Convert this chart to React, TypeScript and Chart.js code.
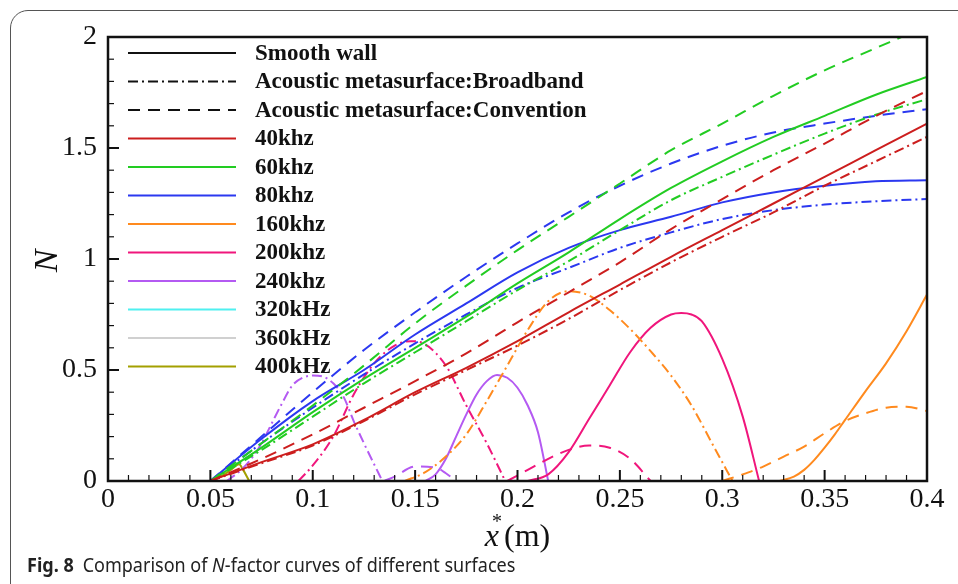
import React, { useEffect, useRef } from "react";
import { Chart, registerables } from "chart.js";

Chart.register(...registerables);

// ---------------- data ----------------
const xTickLabels = ["0", "0.05", "0.1", "0.15", "0.2", "0.25", "0.3", "0.35", "0.4"];
const yTickLabels = ["0", "0.5", "1", "1.5", "2"];

const legendLabels = [
  "Smooth wall",
  "Acoustic metasurface:Broadband",
  "Acoustic metasurface:Convention",
  "40khz",
  "60khz",
  "80khz",
  "160khz",
  "200khz",
  "240khz",
  "320kHz",
  "360kHz",
  "400kHz",
];

// shared x positions (m) for 40/60/80 kHz curves
const xMain = [0.05, 0.075, 0.1, 0.125, 0.15, 0.175, 0.2, 0.225, 0.25, 0.275, 0.3, 0.325, 0.35, 0.375, 0.4];

const n40Smooth = [0, 0.085, 0.165, 0.275, 0.4, 0.51, 0.63, 0.76, 0.885, 1.01, 1.13, 1.25, 1.37, 1.49, 1.61];
const n40Broad = [0, 0.08, 0.16, 0.27, 0.39, 0.5, 0.61, 0.73, 0.86, 0.985, 1.1, 1.21, 1.33, 1.44, 1.55];
const n40Conv = [0, 0.1, 0.21, 0.33, 0.45, 0.575, 0.715, 0.85, 0.985, 1.135, 1.27, 1.4, 1.52, 1.644, 1.757];

const n60Smooth = [0, 0.15, 0.31, 0.46, 0.6, 0.74, 0.89, 1.03, 1.18, 1.32, 1.44, 1.55, 1.645, 1.74, 1.82];
const n60Broad = [0, 0.14, 0.29, 0.44, 0.58, 0.72, 0.86, 0.99, 1.13, 1.265, 1.37, 1.47, 1.565, 1.65, 1.72];
const n60Conv = [0, 0.17, 0.34, 0.52, 0.71, 0.88, 1.04, 1.19, 1.34, 1.49, 1.61, 1.735, 1.85, 1.95, 2.05];

const n80Smooth = [0, 0.19, 0.36, 0.5, 0.66, 0.8, 0.94, 1.05, 1.13, 1.19, 1.255, 1.3, 1.33, 1.35, 1.355];
const n80Broad = [0, 0.17, 0.33, 0.48, 0.62, 0.75, 0.87, 0.96, 1.05, 1.12, 1.18, 1.22, 1.245, 1.26, 1.27];
const n80Conv = [0, 0.2, 0.4, 0.59, 0.76, 0.92, 1.07, 1.21, 1.33, 1.43, 1.51, 1.57, 1.61, 1.645, 1.675];

// 160 kHz
const x160Smooth = [0.328, 0.335, 0.34, 0.345, 0.35, 0.355, 0.36, 0.37, 0.38, 0.39, 0.4];
const n160Smooth = [0, 0.02, 0.05, 0.095, 0.15, 0.21, 0.275, 0.405, 0.53, 0.675, 0.84];
const x160Broad = [0.145, 0.155, 0.165, 0.175, 0.185, 0.195, 0.205, 0.215, 0.225, 0.235, 0.245, 0.255, 0.265, 0.275, 0.285, 0.295, 0.305];
const n160Broad = [0, 0.04, 0.11, 0.21, 0.36, 0.52, 0.68, 0.81, 0.855, 0.835, 0.77, 0.685, 0.585, 0.475, 0.34, 0.17, 0];
const x160Conv = [0.3, 0.31, 0.32, 0.33, 0.34, 0.35, 0.36, 0.37, 0.38, 0.39, 0.4];
const n160Conv = [0, 0.03, 0.065, 0.11, 0.155, 0.215, 0.27, 0.305, 0.33, 0.335, 0.315];

// 200 kHz
const x200Smooth = [0.205, 0.215, 0.225, 0.235, 0.245, 0.255, 0.265, 0.275, 0.28, 0.285, 0.29, 0.3, 0.31, 0.318];
const n200Smooth = [0, 0.03, 0.13, 0.28, 0.43, 0.58, 0.69, 0.75, 0.757, 0.75, 0.72, 0.55, 0.29, 0];
const x200Broad = [0.093, 0.1, 0.11, 0.12, 0.13, 0.14, 0.148, 0.155, 0.165, 0.175, 0.185, 0.194];
const n200Broad = [0, 0.07, 0.2, 0.39, 0.53, 0.61, 0.63, 0.615, 0.52, 0.34, 0.17, 0];
const x200Conv = [0.195, 0.205, 0.215, 0.225, 0.235, 0.245, 0.255, 0.265];
const n200Conv = [0, 0.05, 0.1, 0.14, 0.16, 0.15, 0.1, 0];

// 240 kHz
const x240Smooth = [0.155, 0.16, 0.165, 0.17, 0.175, 0.18, 0.185, 0.19, 0.195, 0.2, 0.205, 0.21, 0.215];
const n240Smooth = [0, 0.03, 0.1, 0.2, 0.3, 0.39, 0.45, 0.478, 0.465, 0.42, 0.34, 0.22, 0];
const x240Broad = [0.058, 0.065, 0.07, 0.075, 0.08, 0.085, 0.09, 0.095, 0.1, 0.105, 0.11, 0.115, 0.12, 0.125, 0.13, 0.134];
const n240Broad = [0, 0.05, 0.1, 0.17, 0.26, 0.35, 0.43, 0.465, 0.475, 0.47, 0.44, 0.38, 0.27, 0.17, 0.075, 0];
const x240Conv = [0.135, 0.14, 0.15, 0.16, 0.165, 0.17];
const n240Conv = [0, 0.02, 0.065, 0.06, 0.035, 0];

// 400 kHz
const x400Smooth = [0.05, 0.055, 0.06, 0.064, 0.066, 0.069];
const n400Smooth = [0, 0.02, 0.05, 0.075, 0.05, 0];

// ---------------- styles ----------------
const BLACK = "#111111";
const C40 = "#cc1e1e";
const C60 = "#22cc22";
const C80 = "#2b38f0";
const C160 = "#ff8a1e";
const C200 = "#f0167c";
const C240 = "#b45af2";
const C320 = "#4ff0f0";
const C360 = "#d0d0d0";
const C400 = "#a3a000";

const SOLID: number[] = [];
const BROAD = [10, 4, 2, 4];
const CONV = [12, 8];

const legendColors = [BLACK, BLACK, BLACK, C40, C60, C80, C160, C200, C240, C320, C360, C400];
const legendDashes = [SOLID, BROAD, CONV, SOLID, SOLID, SOLID, SOLID, SOLID, SOLID, SOLID, SOLID, SOLID];

const series = [
  { label: "40khz smooth", xs: xMain, ys: n40Smooth, color: C40, dash: SOLID },
  { label: "40khz broadband", xs: xMain, ys: n40Broad, color: C40, dash: BROAD },
  { label: "40khz convention", xs: xMain, ys: n40Conv, color: C40, dash: CONV },
  { label: "60khz smooth", xs: xMain, ys: n60Smooth, color: C60, dash: SOLID },
  { label: "60khz broadband", xs: xMain, ys: n60Broad, color: C60, dash: BROAD },
  { label: "60khz convention", xs: xMain, ys: n60Conv, color: C60, dash: CONV },
  { label: "80khz smooth", xs: xMain, ys: n80Smooth, color: C80, dash: SOLID },
  { label: "80khz broadband", xs: xMain, ys: n80Broad, color: C80, dash: BROAD },
  { label: "80khz convention", xs: xMain, ys: n80Conv, color: C80, dash: CONV },
  { label: "160khz smooth", xs: x160Smooth, ys: n160Smooth, color: C160, dash: SOLID },
  { label: "160khz broadband", xs: x160Broad, ys: n160Broad, color: C160, dash: BROAD },
  { label: "160khz convention", xs: x160Conv, ys: n160Conv, color: C160, dash: CONV },
  { label: "200khz smooth", xs: x200Smooth, ys: n200Smooth, color: C200, dash: SOLID },
  { label: "200khz broadband", xs: x200Broad, ys: n200Broad, color: C200, dash: BROAD },
  { label: "200khz convention", xs: x200Conv, ys: n200Conv, color: C200, dash: CONV },
  { label: "240khz smooth", xs: x240Smooth, ys: n240Smooth, color: C240, dash: SOLID },
  { label: "240khz broadband", xs: x240Broad, ys: n240Broad, color: C240, dash: BROAD },
  { label: "240khz convention", xs: x240Conv, ys: n240Conv, color: C240, dash: CONV },
  { label: "400kHz smooth", xs: x400Smooth, ys: n400Smooth, color: C400, dash: SOLID },
];

const SERIF = "'Liberation Serif', 'Times New Roman', serif";

const framePlugin = {
  id: "frameTicks",
  afterDatasetsDraw(chart: any) {
    const { ctx, chartArea: a, scales } = chart;
    ctx.save();
    ctx.strokeStyle = BLACK;
    ctx.setLineDash([]);
    const drawTicks = (scale: any, horizontal: boolean) => {
      const vals = scale.ticks.map((t: any) => t.value);
      for (let i = 0; i < vals.length; i++) {
        const major = scale.getPixelForValue(vals[i]);
        ctx.lineWidth = 2;
        ctx.beginPath();
        if (horizontal) {
          ctx.moveTo(major, a.bottom);
          ctx.lineTo(major, a.bottom - 11);
        } else {
          ctx.moveTo(a.left, major);
          ctx.lineTo(a.left + 11, major);
        }
        ctx.stroke();
        if (i < vals.length - 1) {
          ctx.lineWidth = 1.2;
          for (let k = 1; k < 5; k++) {
            const v = vals[i] + ((vals[i + 1] - vals[i]) * k) / 5;
            const p = scale.getPixelForValue(v);
            ctx.beginPath();
            if (horizontal) {
              ctx.moveTo(p, a.bottom);
              ctx.lineTo(p, a.bottom - 6);
            } else {
              ctx.moveTo(a.left, p);
              ctx.lineTo(a.left + 6, p);
            }
            ctx.stroke();
          }
        }
      }
    };
    drawTicks(scales.x, true);
    drawTicks(scales.y, false);
    ctx.lineWidth = 2.5;
    ctx.strokeRect(a.left, a.top, a.right - a.left, a.bottom - a.top);
    ctx.restore();
  },
};

const legendPlugin = {
  id: "customLegend",
  afterDraw(chart: any) {
    const { ctx, chartArea: a } = chart;
    ctx.save();
    ctx.font = `bold 23px ${SERIF}`;
    ctx.textBaseline = "middle";
    ctx.textAlign = "left";
    legendLabels.forEach((label, i) => {
      const y = a.top + 16 + i * 28.5;
      ctx.strokeStyle = legendColors[i];
      ctx.lineWidth = 2;
      ctx.setLineDash(legendDashes[i]);
      ctx.beginPath();
      ctx.moveTo(a.left + 20, y);
      ctx.lineTo(a.left + 128, y);
      ctx.stroke();
      ctx.fillStyle = BLACK;
      ctx.fillText(label, a.left + 147, y + 1);
    });
    ctx.restore();
  },
};

const titlePlugin = {
  id: "axisTitles",
  afterDraw(chart: any) {
    const { ctx, chartArea: a } = chart;
    ctx.save();
    ctx.fillStyle = BLACK;
    ctx.translate(48, (a.top + a.bottom) / 2 + 2);
    ctx.rotate(-Math.PI / 2);
    ctx.font = `italic 34px ${SERIF}`;
    ctx.textAlign = "center";
    ctx.textBaseline = "middle";
    ctx.fillText("N", 0, 0);
    ctx.restore();

    ctx.save();
    ctx.fillStyle = BLACK;
    ctx.textBaseline = "alphabetic";
    ctx.textAlign = "left";
    const base = a.bottom + 65;
    ctx.font = `italic 32px ${SERIF}`;
    const wx = ctx.measureText("x").width;
    ctx.font = `32px ${SERIF}`;
    const wm = ctx.measureText("(m)").width;
    const total = wx + 5 + wm;
    const cx = (a.left + a.right) / 2;
    const x0 = cx - total / 2;
    ctx.font = `italic 32px ${SERIF}`;
    ctx.fillText("x", x0, base);
    ctx.font = `20px ${SERIF}`;
    ctx.fillText("*", x0 + wx - 7, base - 18);
    ctx.font = `32px ${SERIF}`;
    ctx.fillText("(m)", x0 + wx + 5, base);
    ctx.restore();
  },
};

export default function App() {
  const canvasRef = useRef<HTMLCanvasElement | null>(null);

  useEffect(() => {
    document.body.style.margin = "0";
    const canvas = canvasRef.current;
    if (!canvas) return;
    const tickFont = { family: SERIF, size: 28 };
    const chart = new Chart(canvas, {
      type: "line",
      data: {
        datasets: series.map((s) => ({
          label: s.label,
          data: s.xs.map((x, i) => ({ x, y: s.ys[i] })),
          borderColor: s.color,
          backgroundColor: s.color,
          borderWidth: 2,
          borderDash: s.dash,
          pointRadius: 0,
          fill: false,
          cubicInterpolationMode: "monotone",
        })),
      },
      options: {
        responsive: false,
        animation: false,
        events: [],
        layout: { padding: { left: 0, top: 37, right: 31, bottom: 0 } },
        plugins: { legend: { display: false }, tooltip: { enabled: false }, title: { display: false } },
        scales: {
          x: {
            type: "linear",
            min: 0,
            max: 0.4,
            grid: { display: false, drawTicks: false },
            border: { display: false },
            afterFit: (s: any) => {
              s.height = 103;
            },
            ticks: {
              stepSize: 0.05,
              autoSkip: false,
              maxRotation: 0,
              padding: 2,
              color: BLACK,
              font: tickFont,
              callback: (_v: any, i: number) => xTickLabels[i],
            },
          },
          y: {
            type: "linear",
            min: 0,
            max: 2,
            grid: { display: false, drawTicks: false },
            border: { display: false },
            afterFit: (s: any) => {
              s.width = 108;
            },
            ticks: {
              stepSize: 0.5,
              autoSkip: false,
              padding: 11,
              color: BLACK,
              font: tickFont,
              callback: (_v: any, i: number) => yTickLabels[i],
            },
          },
        },
      },
      plugins: [framePlugin, legendPlugin, titlePlugin],
    } as any);
    return () => chart.destroy();
  }, []);

  return (
    <div
      style={{
        position: "fixed",
        left: 0,
        top: 0,
        width: 958,
        height: 584,
        overflow: "hidden",
        background: "#fff",
      }}
    >
      <div
        style={{
          position: "absolute",
          left: 10,
          top: 10,
          width: 1000,
          height: 700,
          border: "1.5px solid #555",
          borderTopLeftRadius: 18,
          boxSizing: "border-box",
        }}
      />
      <canvas
        ref={canvasRef}
        width={958}
        height={584}
        style={{ position: "absolute", left: 0, top: 0, width: 958, height: 584 }}
      />
      <div
        style={{
          position: "absolute",
          left: 27,
          top: 555,
          fontFamily: "'Noto Sans', 'Open Sans', sans-serif",
          fontSize: 20,
          lineHeight: "20px",
          color: "#222",
          whiteSpace: "nowrap",
          transform: "scaleX(0.9)",
          transformOrigin: "left top",
        }}
      >
        <b>Fig. 8</b>
        <span style={{ marginLeft: 10 }}>
          Comparison of <i>N</i>-factor curves of different surfaces
        </span>
      </div>
    </div>
  );
}
